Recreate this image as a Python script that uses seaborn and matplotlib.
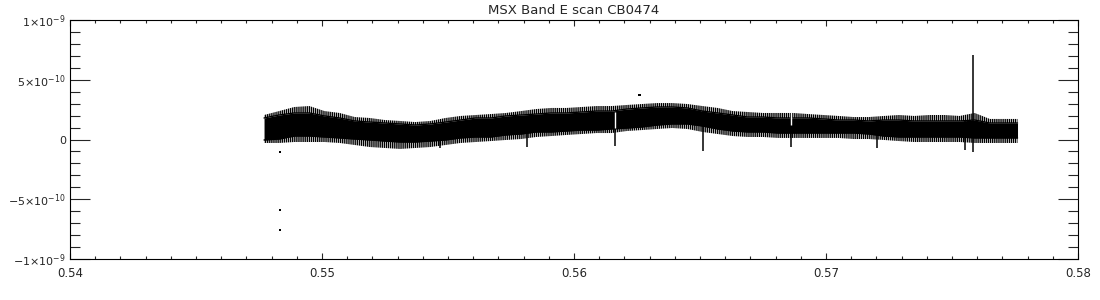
import numpy as np
import pandas as pd
import matplotlib
matplotlib.use("Agg")
import matplotlib.pyplot as plt
import seaborn as sns

# ---------------- data ----------------
TITLE = "MSX Band E scan CB0474"
# scan position samples
scan_x = [0.5477, 0.5483, 0.5489, 0.5495, 0.5501, 0.5507, 0.5513, 0.5519, 0.5525, 0.5531,
          0.5537, 0.5543, 0.5549, 0.5555, 0.5561, 0.5567, 0.5573, 0.5579, 0.5585, 0.5591,
          0.5597, 0.5603, 0.5609, 0.5615, 0.5621, 0.5627, 0.5633, 0.5639, 0.5645, 0.5651,
          0.5657, 0.5663, 0.5669, 0.5675, 0.5681, 0.5687, 0.5693, 0.5699, 0.5705, 0.5711,
          0.5717, 0.5723, 0.5729, 0.5735, 0.5741, 0.5747, 0.5753, 0.5759, 0.5765, 0.5771,
          0.5776]
# envelope of the noisy signal, in units of 1e-10
outer_hi = [2.05, 2.38, 2.72, 2.80, 2.38, 2.22, 1.88, 1.80, 1.63, 1.55,
            1.46, 1.55, 1.80, 1.97, 2.05, 2.13, 2.22, 2.38, 2.55, 2.64,
            2.64, 2.72, 2.80, 2.80, 2.89, 2.97, 3.05, 3.05, 2.97, 2.80,
            2.64, 2.38, 2.30, 2.22, 2.22, 2.22, 2.13, 2.05, 1.97, 1.88,
            1.88, 1.97, 2.05, 1.97, 2.05, 2.05, 1.97, 2.22, 1.72, 1.72,
            1.72]
core_hi = [1.80, 2.05, 2.22, 2.22, 1.97, 1.80, 1.55, 1.46, 1.38, 1.30,
           1.21, 1.30, 1.46, 1.63, 1.80, 1.80, 1.97, 2.05, 2.13, 2.22,
           2.22, 2.30, 2.38, 2.38, 2.55, 2.64, 2.72, 2.72, 2.64, 2.38,
           2.22, 2.05, 1.88, 1.88, 1.80, 1.80, 1.80, 1.72, 1.63, 1.63,
           1.55, 1.63, 1.63, 1.55, 1.55, 1.55, 1.55, 1.63, 1.38, 1.38,
           1.38]
core_lo = [-0.04, 0.04, 0.29, 0.29, 0.21, 0.13, 0.04, -0.04, -0.13, -0.21,
           -0.21, -0.13, -0.04, 0.13, 0.21, 0.21, 0.38, 0.46, 0.63, 0.63,
           0.71, 0.79, 0.79, 0.88, 0.96, 1.05, 1.21, 1.30, 1.30, 1.13,
           0.88, 0.71, 0.63, 0.63, 0.54, 0.54, 0.54, 0.54, 0.54, 0.54,
           0.46, 0.29, 0.21, 0.21, 0.21, 0.21, 0.21, 0.13, 0.13, 0.13,
           0.13]
outer_lo = [-0.29, -0.29, -0.21, -0.21, -0.21, -0.29, -0.46, -0.63, -0.71, -0.79,
            -0.71, -0.63, -0.46, -0.29, -0.21, -0.13, -0.04, 0.04, 0.21, 0.29,
            0.38, 0.46, 0.54, 0.54, 0.71, 0.79, 0.88, 0.96, 0.88, 0.63,
            0.46, 0.29, 0.21, 0.21, 0.13, 0.13, 0.13, 0.13, 0.13, 0.04,
            0.04, -0.04, -0.13, -0.21, -0.21, -0.21, -0.21, -0.29, -0.29, -0.29,
            -0.29]
# narrow excursions (position, low, high), units of 1e-10
spike_x = [0.55468, 0.55813, 0.56163, 0.56512, 0.56861, 0.57202, 0.57552, 0.57583]
spike_lo = [-0.71, -0.63, -0.55, -0.95, -0.63, -0.71, -0.88, -1.05]
spike_hi = [1.30, 2.00, 2.30, 2.40, 1.80, 1.55, 1.55, 7.05]
# data gaps inside the band
gap_x = [0.56163, 0.56861]
gap_lo = [0.96, 1.20]
gap_hi = [2.30, 2.30]
# isolated outlying samples
pt_x = [0.56260, 0.54833, 0.54833, 0.54833]
pt_y = [3.72, -1.05, -5.90, -7.57]

SCALE = 1e-10
# ----------------------------------------------------------------

df = pd.DataFrame({
    "x": scan_x,
    "outer_hi": np.array(outer_hi) * SCALE,
    "core_hi": np.array(core_hi) * SCALE,
    "core_lo": np.array(core_lo) * SCALE,
    "outer_lo": np.array(outer_lo) * SCALE,
})
pts = pd.DataFrame({"x": pt_x, "y": np.array(pt_y) * SCALE})

sns.set_style("ticks")
plt.rcParams["font.family"] = ["DejaVu Sans"]
plt.rcParams["hatch.linewidth"] = 1.0
plt.rcParams["hatch.color"] = "black"

fig = plt.figure(figsize=(11, 3), dpi=100)
ax = fig.add_axes([70 / 1100, 41 / 300, 1008 / 1100, 239 / 300])

# dense core of the scan
ax.fill_between(df["x"], df["core_lo"], df["core_hi"], color="black", linewidth=0)
# ragged noisy fringes (vertical stroke texture)
ax.fill_between(df["x"], df["core_hi"], df["outer_hi"], facecolor="none",
                hatch="||||||||", edgecolor="black", linewidth=0)
ax.fill_between(df["x"], df["outer_lo"], df["core_lo"], facecolor="none",
                hatch="||||||||", edgecolor="black", linewidth=0)
sns.lineplot(data=df, x="x", y="core_hi", color="black", lw=1.0, ax=ax)
sns.lineplot(data=df, x="x", y="core_lo", color="black", lw=1.0, ax=ax)

ax.vlines(spike_x, np.array(spike_lo) * SCALE, np.array(spike_hi) * SCALE,
          color="black", lw=1.1)
ax.vlines(gap_x, np.array(gap_lo) * SCALE, np.array(gap_hi) * SCALE,
          color="white", lw=1.0)
sns.scatterplot(data=pts, x="x", y="y", color="black", s=3, marker="s",
                edgecolor="none", ax=ax)

ax.set_xlim(0.54, 0.58)
ax.set_ylim(-1e-9, 1e-9)
ax.set_xlabel("")
ax.set_ylabel("")

xt = [0.54, 0.55, 0.56, 0.57, 0.58]
ax.set_xticks(xt, ["0.54", "0.55", "0.56", "0.57", "0.58"])
ax.set_xticks(np.linspace(0.54, 0.58, 41), minor=True)
yt = [-1e-9, -5e-10, 0, 5e-10, 1e-9]
ax.set_yticks(yt, [r"$-1{\times}10^{-9}$", r"$-5{\times}10^{-10}$", "0",
                   r"$5{\times}10^{-10}$", r"$1{\times}10^{-9}$"])
ax.set_yticks(np.linspace(-1e-9, 1e-9, 21), minor=True)

ax.tick_params(axis="x", which="major", direction="in", length=4, width=0.8,
               top=True, bottom=True, labelsize=8.5, pad=6)
ax.tick_params(axis="x", which="minor", direction="in", length=2, width=0.8,
               top=True, bottom=True)
ax.tick_params(axis="y", which="major", direction="in", length=14.5, width=0.8,
               left=True, right=True, labelsize=8, pad=3)
ax.tick_params(axis="y", which="minor", direction="in", length=7.2, width=0.8,
               left=True, right=True)
for s in ax.spines.values():
    s.set_visible(True)
    s.set_linewidth(0.8)
    s.set_color("black")

ax.set_title(TITLE, fontsize=9.5, pad=4)

fig.savefig("out.png", dpi=100, facecolor="white")
